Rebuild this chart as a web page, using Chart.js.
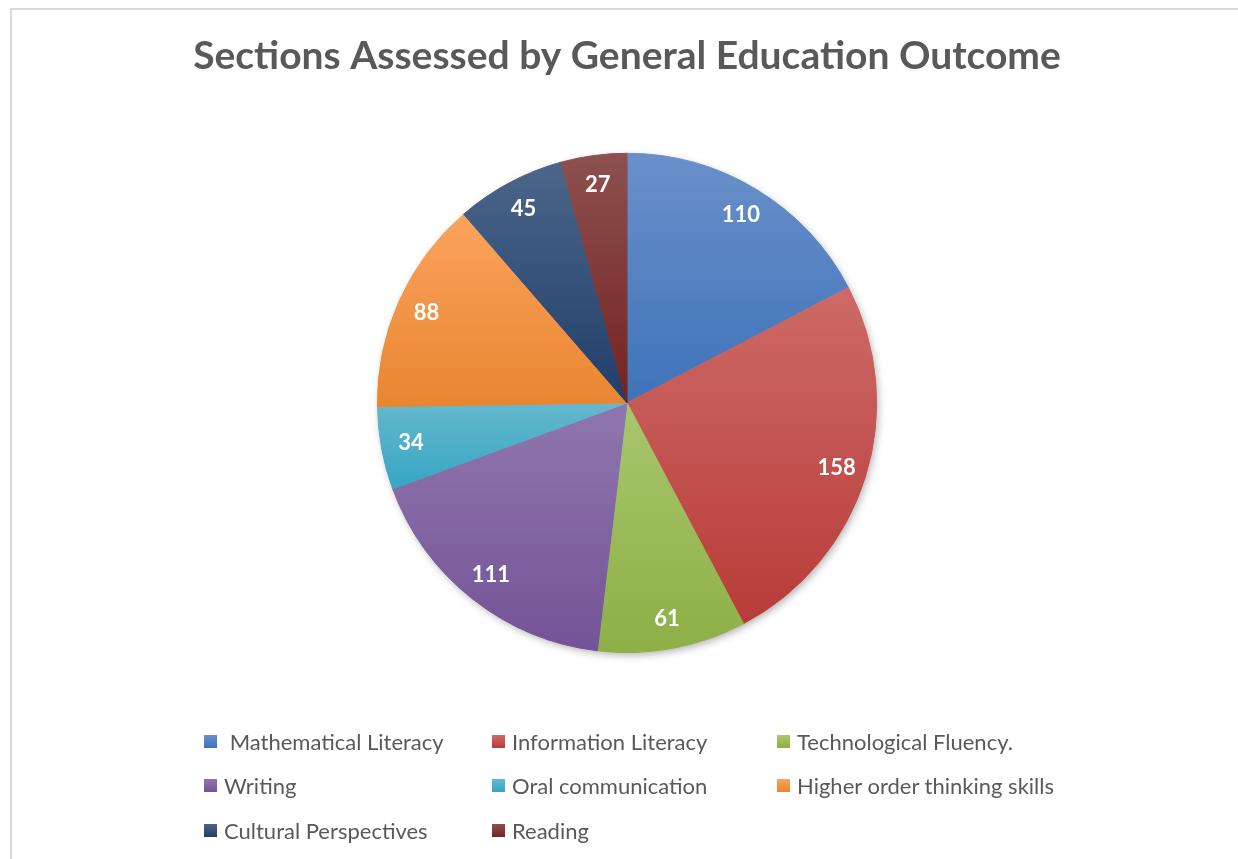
<!DOCTYPE html>
<html>
<head>
<meta charset="utf-8">
<script src="https://cdn.jsdelivr.net/npm/chart.js@4.4.0/dist/chart.umd.min.js"></script>
<style>
    body { margin: 0; background: #ffffff; overflow: hidden; }
    #frame { position: absolute; left: 10px; top: 8px; width: 1300px; height: 900px; border: 2px solid #d9d9d9; box-sizing: border-box; }
    #wrap { position: absolute; left: 0; top: 0; width: 1238px; height: 859px; }
    #legend { position: absolute; left: 204px; top: 728px; font-family: Lato, "Open Sans", sans-serif; font-size: 22px; color: #595959; }
    .item { position: absolute; white-space: pre; display: flex; align-items: center; height: 26px; }
    .box { width: 13px; height: 13px; margin-right: 7px; }
</style>
</head>
<body>
<div id="frame"></div>
<div id="wrap"><canvas id="pieChart" width="1238" height="859"></canvas></div>
<div id="legend"></div>
<script>
// Dados do gráfico
var outcomes = [' Mathematical Literacy', 'Information Literacy', 'Technological Fluency.', 'Writing',
    'Oral communication', 'Higher order thinking skills', 'Cultural Perspectives', 'Reading'];
var sections = [110, 158, 61, 111, 34, 88, 45, 27];

// Cores (topo claro -> base escura, como o gradiente do Excel)
var topColors = ['#6a90c9', '#cd6a67', '#a8c66d', '#8f77ae', '#64b8ce', '#fba35e', '#4c6689', '#8d514f'];
var bottomColors = ['#3e73ba', '#b83b38', '#8eaf46', '#745296', '#37a5c2', '#e9852f', '#203e6a', '#742321'];

// Gradiente vertical por fatia, calculado a partir da caixa da fatia
function sliceGradient(context) {
    var chart = context.chart;
    var area = chart.chartArea;
    var i = context.dataIndex;
    if (!area) return bottomColors[i];
    var cx = (area.left + area.right) / 2;
    var cy = (area.top + area.bottom) / 2;
    var R = Math.min(area.right - area.left, area.bottom - area.top) / 2;
    var total = sections.reduce((a, b) => a + b, 0);
    var before = sections.slice(0, i).reduce((a, b) => a + b, 0);
    var a = before / total * 2 * Math.PI;
    var b = (before + sections[i]) / total * 2 * Math.PI;
    var ys = [cy, cy - R * Math.cos(a), cy - R * Math.cos(b)];
    if (a <= Math.PI && b >= Math.PI) ys.push(cy + R);
    if (a <= 0.0001 || b >= 2 * Math.PI - 0.0001) ys.push(cy - R);
    var g = chart.ctx.createLinearGradient(0, Math.min.apply(null, ys), 0, Math.max.apply(null, ys));
    g.addColorStop(0, topColors[i]);
    g.addColorStop(1, bottomColors[i]);
    return g;
}

// Sombra por trás da pizza
var shadowPlugin = {
    id: 'pieShadow',
    beforeDatasetsDraw: function (chart) {
        var arc = chart.getDatasetMeta(0).data[0];
        if (!arc) return;
        var ctx = chart.ctx;
        ctx.save();
        ctx.shadowColor = 'rgba(0,0,0,0.35)';
        ctx.shadowBlur = 8;
        ctx.shadowOffsetX = 2;
        ctx.shadowOffsetY = 3;
        ctx.fillStyle = '#ffffff';
        ctx.beginPath();
        ctx.arc(arc.x, arc.y, arc.outerRadius - 1, 0, 2 * Math.PI);
        ctx.fill();
        ctx.restore();
    }
};

// Rótulos de valor dentro das fatias
var valueLabels = {
    id: 'valueLabels',
    afterDatasetsDraw: function (chart) {
        var ctx = chart.ctx;
        var meta = chart.getDatasetMeta(0);
        ctx.save();
        ctx.fillStyle = '#ffffff';
        ctx.font = 'bold 22px Lato, "Open Sans", sans-serif';
        ctx.textAlign = 'center';
        ctx.textBaseline = 'middle';
        meta.data.forEach(function (arc, i) {
            var mid = (arc.startAngle + arc.endAngle) / 2;
            var r = arc.outerRadius * 0.88;
            ctx.fillText(String(sections[i]), arc.x + Math.cos(mid) * r, arc.y + Math.sin(mid) * r);
        });
        ctx.restore();
    }
};

new Chart(document.getElementById('pieChart').getContext('2d'), {
    type: 'pie',
    data: {
        labels: outcomes,
        datasets: [{
            data: sections,
            backgroundColor: sliceGradient,
            borderColor: sliceGradient,
            borderWidth: 1
        }]
    },
    options: {
        responsive: false,
        animation: false,
        layout: { padding: { left: 16, right: 0, top: 0, bottom: 206 } },
        plugins: {
            legend: { display: false },
            tooltip: { enabled: false },
            title: {
                display: true,
                text: 'Sections Assessed by General Education Outcome',
                color: '#595959',
                font: { family: 'Lato, "Open Sans", sans-serif', size: 39, weight: 'bold', lineHeight: 1.2 },
                padding: { top: 33, bottom: 73 }
            }
        }
    },
    plugins: [shadowPlugin, valueLabels]
});

// Legenda em grelha (3 colunas)
var legend = document.getElementById('legend');
var colX = [0, 288, 573];
var rowY = [0, 44, 89];
outcomes.forEach(function (name, i) {
    var el = document.createElement('div');
    el.className = 'item';
    el.style.left = colX[i % 3] + 'px';
    el.style.top = rowY[Math.floor(i / 3)] + 'px';
    el.innerHTML = '<span class="box" style="background:linear-gradient(' + topColors[i] + ',' + bottomColors[i] + ')"></span>';
    el.appendChild(document.createTextNode(name));
    legend.appendChild(el);
});
</script>
</body>
</html>
